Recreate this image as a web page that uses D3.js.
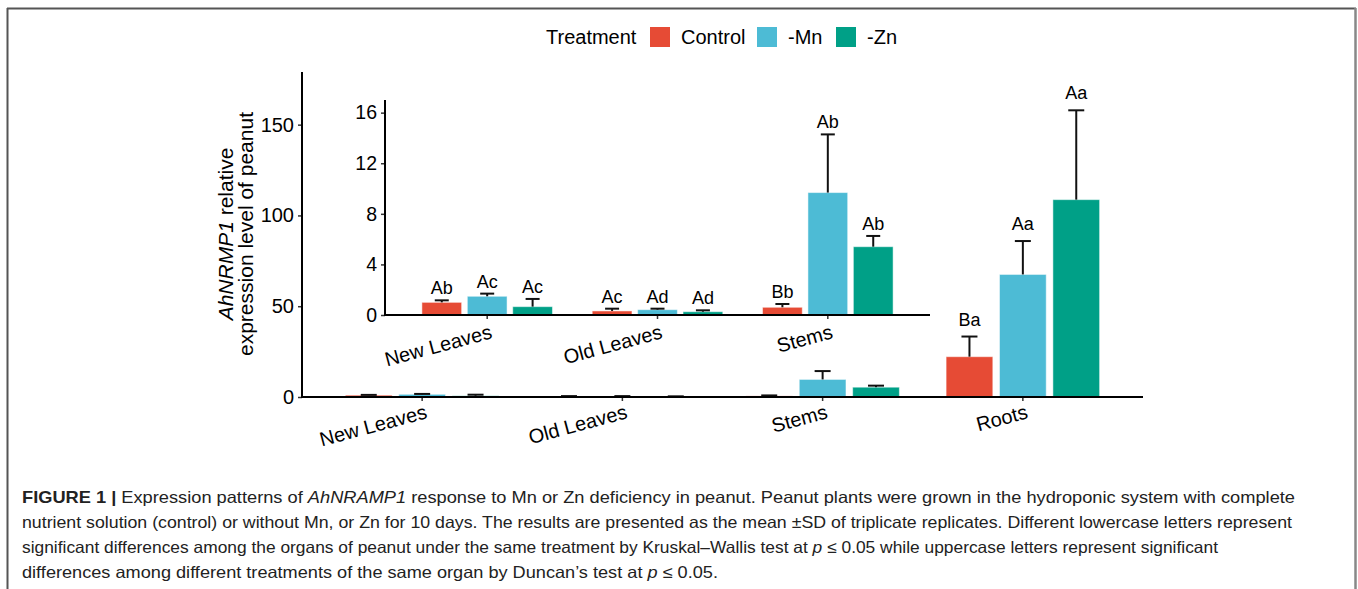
<!DOCTYPE html>
<html><head><meta charset="utf-8">
<script src="https://cdn.jsdelivr.net/npm/d3@7"></script>
<style>
body{margin:0;background:#fff}
svg{display:block}
text{font-family:"Liberation Sans",Arial,Helvetica,sans-serif;fill:#000}
</style></head>
<body><svg id="c" width="1358" height="589"></svg>
<script>
// ---------- data ----------
const organs = ["New Leaves", "Old Leaves", "Stems", "Roots"];
const insetOrgans = ["New Leaves", "Old Leaves", "Stems"];
const treatments = ["Control", "-Mn", "-Zn"];
const treatmentColors = ["#E64B35", "#4DBBD5", "#00A087"];
const meanControl = [1.0, 0.32, 0.61, 22.2];
const meanMn = [1.48, 0.42, 9.68, 67.5];
const meanZn = [0.66, 0.26, 5.4, 108.7];
const sdControl = [0.16, 0.18, 0.26, 11.1];
const sdMn = [0.21, 0.08, 4.6, 18.4];
const sdZn = [0.61, 0.11, 0.85, 49.2];
const lettersControl = ["Ab", "Ac", "Bb", "Ba"];
const lettersMn = ["Ac", "Ad", "Ab", "Aa"];
const lettersZn = ["Ac", "Ad", "Ab", "Aa"];
const mainTicks = [0, 50, 100, 150];
const insetTicks = [0, 4, 8, 12, 16];
const captionLines = [
  [["b","FIGURE 1 | "],["n","Expression patterns of "],["i","AhNRAMP1"],["n"," response to Mn or Zn deficiency in peanut. Peanut plants were grown in the hydroponic system with complete"]],
  [["n","nutrient solution (control) or without Mn, or Zn for 10 days. The results are presented as the mean \u00B1SD of triplicate replicates. Different lowercase letters represent"]],
  [["n","significant differences among the organs of peanut under the same treatment by Kruskal\u2013Wallis test at "],["i","p"],["n"," \u2264 0.05 while uppercase letters represent significant"]],
  [["n","differences among different treatments of the same organ by Duncan\u2019s test at "],["i","p"],["n"," \u2264 0.05."]]
];
const captionWidths = [1273, 1270, 1196, 696];

const means = [meanControl, meanMn, meanZn];
const sds = [sdControl, sdMn, sdZn];
const letters = [lettersControl, lettersMn, lettersZn];

const rows = [];
organs.forEach((o, i) => treatments.forEach((t, j) => rows.push({
  organ: o, treat: t, ti: j, mean: means[j][i], sd: sds[j][i], letter: letters[j][i]
})));

const svg = d3.select("#c");

// ---------- frame ----------
svg.append("line").attr("x1",7).attr("x2",1356).attr("y1",8.5).attr("y2",8.5).attr("stroke","#555").attr("stroke-width",2);
svg.append("line").attr("x1",7.5).attr("x2",7.5).attr("y1",8).attr("y2",589).attr("stroke","#555").attr("stroke-width",2);
svg.append("line").attr("x1",1355.5).attr("x2",1355.5).attr("y1",8).attr("y2",589).attr("stroke","#888").attr("stroke-width",2.5);

// ---------- panel drawer ----------
function panel(opts) {
  const g = svg.append("g");
  const x = d3.scaleBand().domain(opts.cats).range(opts.xr).paddingInner(0).paddingOuter(0.1);
  const step = x.step();
  const dodge = d3.scaleBand().domain(treatments).range([-0.4*step, 0.4*step]);
  const barW = 0.7/3*step;
  const y = d3.scaleLinear().domain(opts.yd).range(opts.yr);
  const data = rows.filter(r => opts.cats.includes(r.organ));
  const cx = d => x(d.organ) + step/2 + dodge(d.treat) + dodge.bandwidth()/2;

  // bars
  g.selectAll("rect.bar").data(data).join("rect")
    .attr("x", d => cx(d) - barW/2)
    .attr("width", barW)
    .attr("y", d => y(d.mean))
    .attr("height", d => y(0) - y(d.mean))
    .attr("fill", d => treatmentColors[d.ti])
    .attr("stroke", "#ffffff").attr("stroke-opacity", 0.5).attr("stroke-width", 1);

  // error bars (upper only)
  const eb = g.selectAll("g.eb").data(data).join("g");
  eb.append("line").attr("x1", cx).attr("x2", cx)
    .attr("y1", d => y(d.mean)).attr("y2", d => y(d.mean + d.sd))
    .attr("stroke","#111").attr("stroke-width",2);
  eb.append("line").attr("x1", d => cx(d) - opts.cap/2).attr("x2", d => cx(d) + opts.cap/2)
    .attr("y1", d => y(d.mean + d.sd)).attr("y2", d => y(d.mean + d.sd))
    .attr("stroke","#111").attr("stroke-width",2);

  // letters
  g.selectAll("text.lab").data(data.filter(d => opts.labelCats.includes(d.organ))).join("text")
    .attr("x", cx).attr("y", d => y(d.mean + d.sd) - opts.labOff)
    .attr("text-anchor","middle").attr("font-size", 18).text(d => d.letter);

  // y axis
  const ya = g.append("g").attr("transform", `translate(${opts.xr[0]},0)`)
    .call(d3.axisLeft(y).tickValues(opts.ticks).tickSize(4).tickSizeOuter(0).tickPadding(4));
  ya.select(".domain").remove();
  ya.selectAll(".tick line").attr("stroke","#333").attr("stroke-width",1.5);
  ya.selectAll(".tick text").attr("font-size", opts.tickFont).attr("fill","#000")
    .attr("font-family",'"Liberation Sans",Arial,sans-serif');
  g.append("line").attr("x1",opts.xr[0]).attr("x2",opts.xr[0]).attr("y1",opts.yr[0]+1).attr("y2",opts.yr[1])
    .attr("stroke","#000").attr("stroke-width",2);

  // x axis
  const xa = g.append("g").attr("transform", `translate(0,${opts.yr[0]})`)
    .call(d3.axisBottom(x).tickSize(4).tickSizeOuter(0).tickFormat(""));
  xa.select(".domain").remove();
  xa.selectAll(".tick line").attr("stroke","#333").attr("stroke-width",1.5);
  g.append("line").attr("x1",opts.xr[0]-1).attr("x2",opts.xr[1]).attr("y1",opts.yr[0]).attr("y2",opts.yr[0])
    .attr("stroke","#000").attr("stroke-width",2);

  g.selectAll("text.cat").data(opts.cats).join("text")
    .attr("text-anchor","end").attr("font-size",20)
    .attr("transform", d => `translate(${x(d)+step/2+6},${opts.yr[0]+opts.catDy}) rotate(-15)`)
    .text(d => d);
}

// main panel
panel({cats: organs, xr: [302, 1143], yr: [397, 72], yd: [0, 179], ticks: mainTicks,
  cap: 16, labOff: 11, labelCats: ["Roots"], tickFont: 20, catDy: 21});
// inset panel
panel({cats: insetOrgans, xr: [385, 930], yr: [315, 100], yd: [0, 17], ticks: insetTicks,
  cap: 14, labOff: 6, labelCats: insetOrgans, tickFont: 19.5, catDy: 23});

// ---------- y title ----------
const yt = svg.append("g").attr("transform","translate(0,234)");
const t1 = yt.append("text").attr("transform","translate(233,0) rotate(-90)").attr("text-anchor","middle").attr("font-size",21);
t1.append("tspan").attr("font-style","italic").text("AhNRMP1");
t1.append("tspan").text(" relative");
yt.append("text").attr("transform","translate(253,0) rotate(-90)").attr("text-anchor","middle").attr("font-size",21)
  .text("expression level of peanut");

// ---------- legend ----------
const lg = svg.append("g");
lg.append("text").attr("x",546).attr("y",44).attr("font-size",20).text("Treatment");
const legX = [650, 757, 836];
treatments.forEach((t, j) => {
  lg.append("rect").attr("x",legX[j]).attr("y",27).attr("width",20).attr("height",20).attr("fill",treatmentColors[j]);
  lg.append("text").attr("x",legX[j]+31).attr("y",44).attr("font-size",20).text(t);
});

// ---------- caption ----------
captionLines.forEach((line, i) => {
  const t = svg.append("text").attr("x",22).attr("y",503 + i*25).attr("font-size",16.5).attr("fill","#222")
    .attr("textLength", captionWidths[i]).attr("lengthAdjust","spacingAndGlyphs");
  line.forEach(([k, s]) => {
    const ts = t.append("tspan").text(s).attr("fill","#222");
    if (k === "b") ts.attr("font-weight","bold");
    if (k === "i") ts.attr("font-style","italic");
  });
});
</script>
</body></html>
